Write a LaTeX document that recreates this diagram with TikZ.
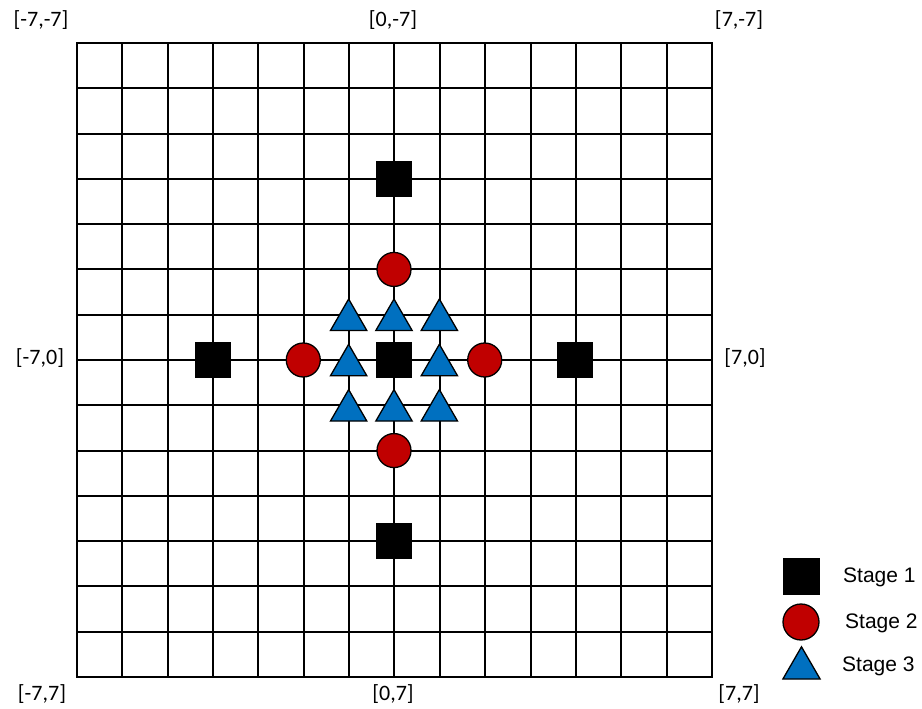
\documentclass[tikz,border=0pt]{standalone}
\usepackage{fontspec}
\setmainfont{Carlito}
\newfontfamily\arial{Liberation Sans}
\usetikzlibrary{shapes.geometric}
\definecolor{sred}{HTML}{C00000}
\definecolor{sblue}{HTML}{0070C0}
\begin{document}
\begin{tikzpicture}[x=1pt,y=-1pt,
  gridline/.style={line width=2pt,black},
  sq/.style={draw=black,fill=black,line width=1pt,minimum size=35pt,inner sep=0pt,rectangle},
  circ/.style={draw=black,fill=sred,line width=1.3pt,minimum size=34pt,inner sep=0pt,circle},
  tri/.style={draw=black,fill=sblue,line width=1.3pt,regular polygon,regular polygon sides=3,minimum size=42pt,inner sep=0pt,yshift=-5.3pt},
  coordlab/.style={font=\fontsize{22}{22}\selectfont,inner sep=0pt},
  leglab/.style={font=\arial\fontsize{21}{21}\selectfont,inner sep=0pt,anchor=west}]
\useasboundingbox (0,0) rectangle (922,709);
\fill[white] (0,0) rectangle (922,709);
\foreach \i in {0,...,14} {
  \pgfmathsetmacro\gx{round(77+\i*45.357)}
  \pgfmathsetmacro\gy{round(43+\i*45.286)}
  \draw[gridline] (\gx,43) -- (\gx,677);
  \draw[gridline] (77,\gy) -- (712,\gy);
}
\draw[gridline] (77,43) rectangle (712,677);
\def\px#1{394+(#1)*45.357}
\def\py#1{360+(#1)*45.286}
% stage 1
\foreach \a/\b/\n in {0/-4/s1,-4/0/s2,0/0/s3,4/0/s4,0/4/s5}
  \node[sq] (\n) at ({\px{\a}},{\py{\b}}) {};
% stage 2
\foreach \a/\b/\n in {0/-2/c1,-2/0/c2,2/0/c3,0/2/c4}
  \node[circ] (\n) at ({\px{\a}},{\py{\b}}) {};
% stage 3
\foreach \a/\b/\n in {-1/-1/t1,0/-1/t2,1/-1/t3,-1/0/t4,1/0/t5,-1/1/t6,0/1/t7,1/1/t8}
  \node[tri] (\n) at ({\px{\a}},{\py{\b}}) {};
% coordinate labels
\node[coordlab] (l1) at (41,20) {[-7,-7]};
\node[coordlab] (l2) at (393,20) {[0,-7]};
\node[coordlab] (l3) at (739,20) {[7,-7]};
\node[coordlab] (l4) at (40,358) {[-7,0]};
\node[coordlab] (l5) at (745,358) {[7,0]};
\node[coordlab] (l6) at (42,694) {[-7,7]};
\node[coordlab] (l7) at (393,694) {[0,7]};
\node[coordlab] (l8) at (739,694) {[7,7]};
% legend
\node[sq,minimum size=36pt] (k1) at (801,576) {};
\node[circ,minimum size=36pt] (k2) at (801,622) {};
\node[tri,minimum size=43pt] (k3) at (801.5,663) {};
\node[leglab] (k1t) at (843,577) {Stage 1};
\node[leglab] (k2t) at (845,623) {Stage 2};
\node[leglab] (k3t) at (842,666) {Stage 3};
\end{tikzpicture}
\end{document}
